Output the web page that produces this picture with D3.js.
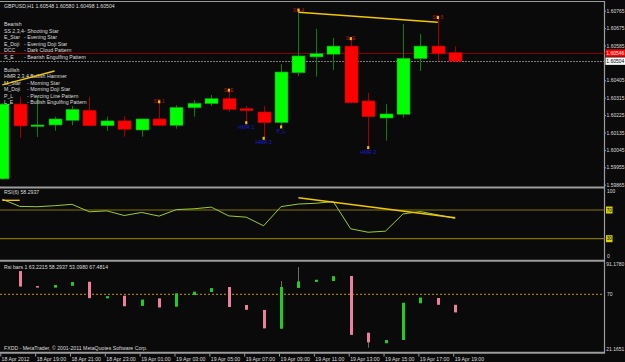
<!DOCTYPE html>
<html>
<head>
<meta charset="utf-8">
<script src="https://cdn.jsdelivr.net/npm/d3@7"></script>
<style>
  body { margin: 0; background: #0a0a0a; }
  svg { display: block; font-family: 'Liberation Sans', Arial, sans-serif; }
</style>
</head>
<body>
<svg id="chart"></svg>
<script>
//Data - GBPUSD H1 candles, 18 Apr 17:00 .. 19 Apr 19:00
let symbolTitle = 'GBPUSD,H1  1.60548 1.60580 1.60498 1.60504';
let candleOpen  = [1.59895, 1.60282, 1.60170, 1.60174, 1.60198, 1.60250, 1.60170, 1.60195, 1.60148, 1.60205, 1.60172, 1.60263, 1.60284, 1.60310, 1.60258, 1.60241, 1.60186, 1.60444, 1.60526, 1.60540, 1.60582, 1.60298, 1.60210, 1.60229, 1.60517, 1.60582, 1.60548];
let candleHigh  = [1.60286, 1.60320, 1.60320, 1.60217, 1.60272, 1.60320, 1.60217, 1.60220, 1.60207, 1.60286, 1.60276, 1.60303, 1.60329, 1.60346, 1.60272, 1.60272, 1.60489, 1.60760, 1.60672, 1.60625, 1.60613, 1.60341, 1.60282, 1.60696, 1.60645, 1.60722, 1.60580];
let candleLow   = [1.59890, 1.60107, 1.60112, 1.60144, 1.60172, 1.60168, 1.60143, 1.60113, 1.60113, 1.60169, 1.60155, 1.60217, 1.60272, 1.60243, 1.60191, 1.60110, 1.60169, 1.60427, 1.60424, 1.60458, 1.60286, 1.60062, 1.60093, 1.60212, 1.60453, 1.60505, 1.60498];
let candleClose = [1.60282, 1.60169, 1.60174, 1.60205, 1.60255, 1.60170, 1.60195, 1.60152, 1.60205, 1.60172, 1.60265, 1.60286, 1.60310, 1.60255, 1.60248, 1.60186, 1.60448, 1.60531, 1.60543, 1.60582, 1.60289, 1.60217, 1.60231, 1.60519, 1.60582, 1.60543, 1.60504];
// 1.60495 sits under the bid box, so it is left out
let priceTicks = [1.60765, 1.60675, 1.60585, 1.60405, 1.60315, 1.60225, 1.60135, 1.60045, 1.59955, 1.59865];
let askPrice = 1.60546;
let bidPrice = 1.60504;

//RSI(6) and the "Rsi bars" built from it
let rsiTitle = 'RSI(6) 58.2937';
let rsiClose = [85.0, 75.0, 74.6, 76.0, 77.9, 67.5, 68.8, 62.3, 66.6, 61.5, 70.6, 71.7, 74.0, 61.8, 60.0, 48.0, 74.7, 78.3, 79.4, 81.7, 43.8, 39.0, 40.5, 64.5, 67.9, 63.2215, 58.2937];
let rsiOpen  = [null, 85.0, 75.3, 74.3, 75.5, 78.1, 67.4, 69.1, 62.5, 67.4, 62.0, 69.5, 71.5, 74.7, 63.1, 59.9, 47.8, 74.1, 78.0, 78.6, 81.8, 45.2, 38.4, 40.5, 64.2, 67.6, 63.2215];
let rsiHigh  = {16: 78.6, 17: 87.6};
let rsiLow   = {21: 35.5};
let rsiLevels = [70, 30];
let rsiAxisLabels = [100, 0];
let barsTitle = 'Rsi bars 1 63.2215 58.2937 53.0980 67.4814';
let barsLevel = 70;
let barsMax = 91.1780;
let barsMin = 21.1651;

//Time axis
let labelBars = [0, 2, 4, 6, 8, 10, 12, 14, 16, 18, 20, 22, 24, 26];
let timeLabels = ['18 Apr 2012', '18 Apr 19:00', '18 Apr 21:00', '18 Apr 23:00', '19 Apr 01:00', '19 Apr 03:00', '19 Apr 05:00',
                  '19 Apr 07:00', '19 Apr 09:00', '19 Apr 11:00', '19 Apr 13:00', '19 Apr 15:00', '19 Apr 17:00', '19 Apr 19:00'];

//Pattern markers
let bearBars  = [9, 13, 17, 20, 25];
let bearNames = ['SS 1', 'S_E', 'SS 4', 'S_E', 'SS 5'];
let bullBars  = [14, 15, 16, 21];
let bullNames = ['HMR 2', 'HMR 3', 'P_L', 'HMR 2'];

//Legend text
let legendCodes = ['Bearish', 'SS 2,3,4', 'E_Star', 'E_Doji', 'DCC', 'S_E', '', 'Bullish', 'HMR 2,3,4', 'M_Star', 'M_Doji', 'P_L', 'L_E'];
let legendNames = ['', 'Shooting Star', 'Evening Star', 'Evening Doji Star', 'Dark Cloud Pattern', 'Bearish Engulfing Pattern', '',
                   '', 'Bullish Hammer', 'Morning Star', 'Morning Doji Star', 'Piercing Line Pattern', 'Bullish Engulfing Pattern'];
let copyright = 'FXDD - MetaTrader, \u00a9 2001-2011 MetaQuotes Software Corp.';

//Trend lines [bar, value]
let priceTrends = [[[0, 1.60381], [3, 1.60453]], [[17, 1.60757], [25, 1.60705]]];
let rsiTrends = [[[0, 83.5], [1, 83.5]], [[17, 87.1], [26, 59.3]]];

//Canvas
let width = 625;
let height = 362;
let axisX = 604.5;
let fontSize = 5.2;
let axisFont = 4.95;
let textColor = '#dcdcdc';

let svg = d3.select('#chart').attr('width', width).attr('height', height);
svg.append('rect').attr('width', width).attr('height', height).attr('fill', '#0a0a0a');

//Scales
let xScale = d3.scaleLinear().domain([0, 26]).range([2.3, 455.2]);
let priceScale = d3.scaleLinear().domain([1.59865, 1.60765]).range([184.7, 10.7]);
let rsiScale = d3.scaleLinear().domain([0, 100]).range([260.2, 188.5]);
let barScale = d3.scaleLinear().domain([barsLevel, barsMax]).range([294.3, 261.5]);
let px = v => Math.round(v) + 0.5;

let addText = (x, y, txt, color, anchor) => {
    return svg.append('text')
        .attr('x', x).attr('y', y)
        .attr('dominant-baseline', 'central')
        .attr('text-anchor', anchor || 'start')
        .attr('font-size', fontSize)
        .attr('fill', color || textColor)
        .text(txt);
}

//Frame and panel separators
[1.5, 187.5, 260.8, 352.8].forEach(y => {
    svg.append('line').attr('x1', 0).attr('x2', axisX).attr('y1', y).attr('y2', y)
        .attr('stroke', '#9c9c9c').attr('stroke-width', y > 5 ? 2 : 1.2);
});
svg.append('line').attr('x1', axisX).attr('x2', axisX).attr('y1', 1).attr('y2', 353.5)
    .attr('stroke', '#9c9c9c').attr('stroke-width', 1.2);

//Ask / bid lines
svg.append('line').attr('x1', 0).attr('x2', axisX).attr('y1', px(priceScale(askPrice))).attr('y2', px(priceScale(askPrice)))
    .attr('stroke', '#8a0000');
svg.append('line').attr('x1', 0).attr('x2', axisX).attr('y1', px(priceScale(bidPrice))).attr('y2', px(priceScale(bidPrice)))
    .attr('stroke', '#7a7a7a').attr('stroke-dasharray', '2,1');

//Candles
let idx = d3.range(candleOpen.length);
let isBull = i => candleClose[i] >= candleOpen[i];
let candles = svg.append('g');
candles.selectAll('line')
    .data(idx)
    .join('line')
    .attr('x1', i => px(xScale(i)))
    .attr('x2', i => px(xScale(i)))
    .attr('y1', i => priceScale(candleHigh[i]))
    .attr('y2', i => priceScale(candleLow[i]))
    .attr('stroke', i => isBull(i) ? '#0b7d0b' : '#a00000');
candles.selectAll('rect')
    .data(idx)
    .join('rect')
    .attr('x', i => Math.round(xScale(i)) - 6)
    .attr('width', 13)
    .attr('y', i => priceScale(Math.max(candleOpen[i], candleClose[i])))
    .attr('height', i => Math.max(1.5, Math.abs(priceScale(candleOpen[i]) - priceScale(candleClose[i]))))
    .attr('fill', i => isBull(i) ? '#00ff00' : '#ff0000')
    .attr('stroke', i => isBull(i) ? '#0a9a0a' : '#c00000')
    .attr('stroke-width', 0.6);

//Pattern labels
bearBars.forEach((b, j) => {
    addText(xScale(b), priceScale(candleHigh[b]) - 2, bearNames[j], '#c01010', 'middle');
    svg.append('rect').attr('x', xScale(b) - 1).attr('y', priceScale(candleHigh[b]) - 3)
        .attr('width', 2.2).attr('height', 3).attr('fill', '#f0c000');
});
bullBars.forEach((b, j) => {
    addText(xScale(b), priceScale(candleLow[b]) + 5, bullNames[j], '#1a1ad8', 'middle');
    svg.append('rect').attr('x', xScale(b) - 1).attr('y', priceScale(candleLow[b]) - 0.5)
        .attr('width', 2.2).attr('height', 3).attr('fill', '#f0c000');
});

//Trend lines
let drawTrend = (pts, yScale) => {
    svg.append('line')
        .attr('x1', xScale(pts[0][0])).attr('y1', yScale(pts[0][1]))
        .attr('x2', xScale(pts[1][0])).attr('y2', yScale(pts[1][1]))
        .attr('stroke', '#f2c800').attr('stroke-width', 1.4);
}

//Legend
addText(4, 6, symbolTitle);
legendCodes.forEach((c, i) => {
    let y = 24.3 + i * 6.5;
    addText(4, y, c);
    if (legendNames[i]) addText(i > 7 ? 27 : 24, y, '-  ' + legendNames[i]);
});
priceTrends.forEach(t => drawTrend(t, priceScale));

//Price axis
let priceAxis = svg.append('g')
    .attr('transform', 'translate(' + axisX + ',0)')
    .call(d3.axisRight(priceScale).tickValues(priceTicks).tickSize(1.5).tickPadding(0.6).tickFormat(d3.format('.5f')));
priceAxis.select('.domain').remove();
priceAxis.selectAll('line').attr('stroke', '#9c9c9c');
priceAxis.selectAll('text').attr('font-size', axisFont).attr('fill', textColor).attr('font-family', 'inherit');

//Ask / bid boxes
[[askPrice, '#ff0000', '#ffffff'], [bidPrice, '#ffffff', '#000000']].forEach(b => {
    let y = priceScale(b[0]);
    svg.append('rect').attr('x', axisX + 1).attr('y', y - 3.7).attr('width', 22).attr('height', 7.4).attr('fill', b[1]);
    addText(axisX + 1.8, y, d3.format('.5f')(b[0]), b[2]).attr('font-size', axisFont);
});

//RSI panel
addText(4, 192, rsiTitle);
rsiLevels.forEach(l => {
    svg.append('line').attr('x1', 0).attr('x2', axisX).attr('y1', rsiScale(l)).attr('y2', rsiScale(l))
        .attr('stroke', '#857400').attr('stroke-width', 1.2);
    svg.append('rect').attr('x', axisX + 1.5).attr('y', rsiScale(l) - 3.5).attr('width', 6.5).attr('height', 7).attr('fill', '#d8d400');
    addText(axisX + 4.75, rsiScale(l), l, '#000000', 'middle').attr('font-size', 4.6);
});
rsiAxisLabels.forEach(v => {
    addText(axisX + 2.5, rsiScale(v) + (v > 50 ? 3.3 : -3.3), v).attr('font-size', axisFont);
});
svg.append('path')
    .datum(idx)
    .attr('fill', 'none')
    .attr('stroke', '#9acd32')
    .attr('stroke-width', 1)
    .attr('d', d3.line().x(i => xScale(i)).y(i => rsiScale(rsiClose[i])));
rsiTrends.forEach(t => drawTrend(t, rsiScale));

//Rsi bars panel
addText(4, 267, barsTitle);
svg.append('line').attr('x1', 0).attr('x2', axisX).attr('y1', barScale(barsLevel)).attr('y2', barScale(barsLevel))
    .attr('stroke', '#c89400').attr('stroke-dasharray', '2,2');
addText(axisX + 1.8, 264.8, d3.format('.4f')(barsMax)).attr('font-size', axisFont);
addText(axisX + 2.5, barScale(barsLevel), barsLevel).attr('font-size', axisFont);
addText(axisX + 1.8, 349.6, d3.format('.4f')(barsMin)).attr('font-size', axisFont);

let barIdx = idx.filter(i => rsiOpen[i] !== null);
barIdx.filter(i => rsiHigh[i] || rsiLow[i]).forEach(i => {
    let top = rsiHigh[i] || Math.max(rsiOpen[i], rsiClose[i]);
    let bot = rsiLow[i] || Math.min(rsiOpen[i], rsiClose[i]);
    svg.append('line').attr('x1', px(xScale(i))).attr('x2', px(xScale(i)))
        .attr('y1', barScale(top)).attr('y2', barScale(bot)).attr('stroke', '#6a6a6a');
});
svg.append('g').selectAll('rect')
    .data(barIdx)
    .join('rect')
    .attr('x', i => Math.round(xScale(i)) - 1)
    .attr('width', 3)
    .attr('y', i => barScale(Math.max(rsiOpen[i], rsiClose[i])))
    .attr('height', i => Math.max(1.5, Math.abs(barScale(rsiOpen[i]) - barScale(rsiClose[i]))))
    .attr('fill', i => rsiClose[i] >= rsiOpen[i] ? '#22cc22' : '#ec7f9c');
addText(4, 347.7, copyright);

//Time axis
let timeAxis = svg.append('g')
    .attr('transform', 'translate(0,353.5)')
    .call(d3.axisBottom(xScale).tickValues(labelBars).tickSize(3).tickPadding(0).tickFormat((d, i) => timeLabels[i]));
timeAxis.select('.domain').remove();
timeAxis.selectAll('line').attr('stroke', '#9c9c9c').attr('transform', 'translate(-2,0)');
timeAxis.selectAll('text')
    .attr('font-size', fontSize).attr('fill', textColor).attr('font-family', 'inherit')
    .attr('text-anchor', 'start').attr('dy', 0).attr('y', 5).attr('dominant-baseline', 'central')
    .attr('x', (d, i) => i === 0 ? -1.3 : -1);
</script>
</body>
</html>
